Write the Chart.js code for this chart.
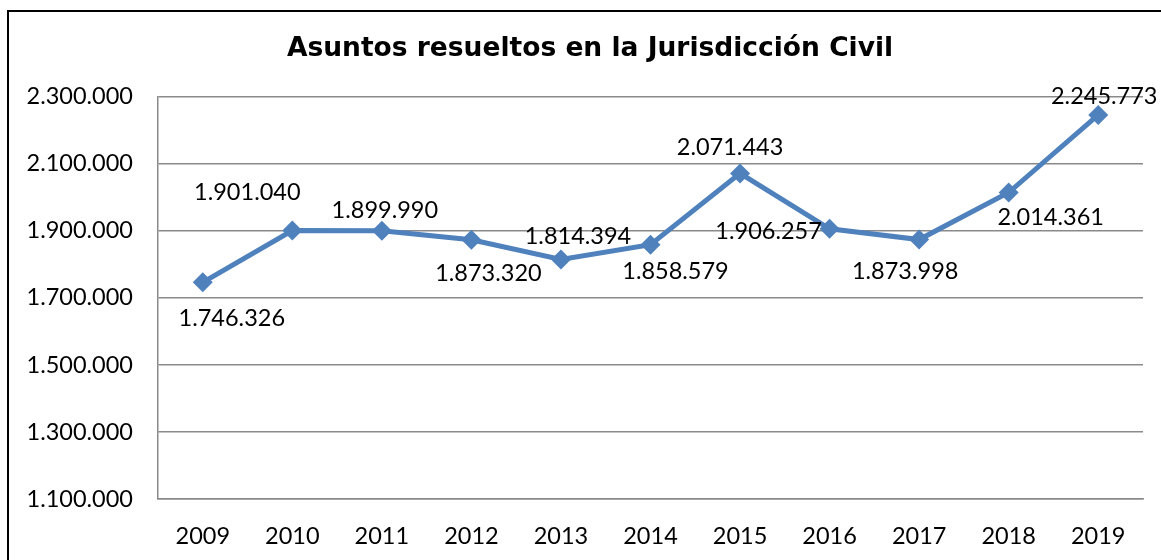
<!DOCTYPE html>
<html>
<head>
<meta charset="utf-8">
<script src="https://cdn.jsdelivr.net/npm/chart.js@4.4.0/dist/chart.umd.min.js"></script>
<style>
  html, body { margin: 0; padding: 0; background: #fff; overflow: hidden; }
  #frame { position: absolute; left: 7px; top: 10px; width: 1200px; height: 600px; border: 2px solid #000; pointer-events: none; }
  #chart { position: absolute; left: 0; top: 0; }
</style>
</head>
<body>
<canvas id="chart" width="1180" height="560"></canvas>
<div id="frame"></div>
<script>
const years = ['2009', '2010', '2011', '2012', '2013', '2014', '2015', '2016', '2017', '2018', '2019'];
const resueltos = [1746326, 1901040, 1899990, 1873320, 1814394, 1858579, 2071443, 1906257, 1873998, 2014361, 2245773];
const yTicks = [1100000, 1300000, 1500000, 1700000, 1900000, 2100000, 2300000];

// where each value label sits relative to its marker (px)
const labelOffsets = [
    [29, 36], [-45, -38], [3, -20], [17, 34], [17, -23], [25, 27],
    [-10, -26], [-61, 3], [-14, 32], [42, 25], [6, -19]
];

const fmt = (v) => String(v).replace(/\B(?=(\d{3})+(?!\d))/g, '.');
const labelFont = '23.5px Lato';

const valueLabels = {
    id: 'valueLabels',
    afterDatasetsDraw(chart) {
        const ctx = chart.ctx;
        const meta = chart.getDatasetMeta(0);
        ctx.save();
        ctx.font = labelFont;
        ctx.fillStyle = '#000';
        ctx.textAlign = 'center';
        ctx.textBaseline = 'middle';
        meta.data.forEach((pt, i) => {
            const [dx, dy] = labelOffsets[i];
            ctx.fillText(fmt(resueltos[i]), pt.x + dx, pt.y + dy);
        });
        ctx.restore();
    }
};

new Chart(document.getElementById('chart'), {
    type: 'line',
    data: {
        labels: years,
        datasets: [{
            data: resueltos,
            borderColor: '#4F81BD',
            backgroundColor: '#4F81BD',
            borderWidth: 5,
            pointStyle: 'rectRot',
            pointRadius: 10,
            pointHoverRadius: 10,
            pointBorderWidth: 0,
            tension: 0,
            yAxisID: 'y'
        }]
    },
    options: {
        responsive: false,
        animation: false,
        devicePixelRatio: 1,
        layout: { padding: 0 },
        plugins: {
            legend: { display: false },
            tooltip: { enabled: false },
            title: {
                display: true,
                text: 'Asuntos resueltos en la Jurisdicción Civil',
                color: '#000',
                font: { family: 'DejaVu Sans', size: 26.5, weight: 'bold' },
                padding: { top: 33, bottom: 32 }
            }
        },
        scales: {
            x: {
                offset: true,
                grid: { display: false },
                border: { display: true, color: '#8a8a8a', width: 1.5 },
                ticks: { color: '#000', font: { family: 'Lato', size: 23.5 }, padding: 15 },
                afterFit: (s) => { s.height = 61; }
            },
            y: {
                min: 1100000,
                max: 2300000,
                afterBuildTicks: (s) => { s.ticks = yTicks.map(v => ({ value: v })); },
                grid: { color: '#8a8a8a', lineWidth: 1.5, drawTicks: false },
                border: { display: true, color: '#8a8a8a', width: 1.5 },
                ticks: {
                    color: '#000',
                    font: { family: 'Lato', size: 23.5 },
                    padding: 25,
                    callback: (v) => fmt(v)
                },
                afterFit: (s) => { s.width = 158; }
            },
            spacer: {
                position: 'right',
                display: true,
                grid: { display: false },
                border: { display: false },
                ticks: { display: false },
                afterFit: (s) => { s.width = 37; }
            }
        }
    },
    plugins: [valueLabels]
});
</script>
</body>
</html>
